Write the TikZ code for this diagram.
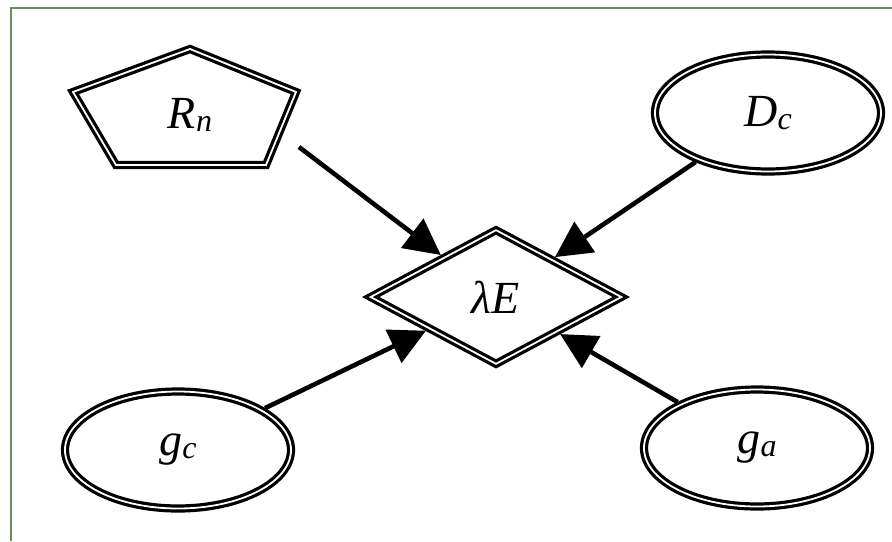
\documentclass[tikz,border=0pt]{standalone}
\usepackage{fontspec}
\setmainfont{Liberation Serif}
\usetikzlibrary{shapes.geometric, arrows.meta, calc}
\definecolor{framegreen}{HTML}{6E8A5E}
\newcommand{\varlbl}[2]{\textit{#1}\raisebox{-1.5pt}{\fontsize{16}{16}\selectfont\textit{#2}}}

\begin{document}
\begin{tikzpicture}[x=0.5pt, y=-0.5pt,
  dblline/.style={draw=black, double=white, double distance=0.9pt, line width=1.6pt},
  varnode/.style={ellipse, dblline, minimum width=113pt, minimum height=58.5pt,
        inner sep=0pt, outer sep=2pt, font=\fontsize{23}{28}\selectfont},
  decnode/.style={diamond, dblline, minimum width=127pt, minimum height=68.5pt,
        inner sep=0pt, outer sep=2pt, font=\fontsize{23}{28}\selectfont},
  arr/.style={-{Triangle[length=18pt, width=18pt]}, line width=2.3pt}]
  \useasboundingbox (0,0) rectangle (892,541);
  \draw[framegreen, line width=0.8pt] (11,541) -- (11,8) -- (892,8);

  % chance node (pentagon) and its label
  \node[font=\fontsize{23}{28}\selectfont] (Rn) at (190,115) {\varlbl{R}{n}};
  \draw[dblline, line join=miter]
    ($(Rn)+(0,-66)$) -- ($(Rn)+(106,-23)$) -- ($(Rn)+(76,50)$)
    -- ($(Rn)+(-74,50)$) -- ($(Rn)+(-117,-23)$) -- cycle;
  \coordinate (Rn-tail) at ($(Rn)+(109,32)$);

  % decision node and variables
  \node[decnode] (lE) at (496,297) {\textit{λE}};
  \node[varnode] (Dc) at (768,113) {\varlbl{D}{c}};
  \node[varnode] (gc) at (178,450) {\varlbl{g}{c}};
  \node[varnode] (ga) at (757,448) {\varlbl{g}{a}};

  \draw[arr] (Rn-tail) -- (lE);
  \draw[arr] (Dc) -- (lE);
  \draw[arr] (gc) -- (lE);
  \draw[arr] (ga) -- (lE);
\end{tikzpicture}
\end{document}
